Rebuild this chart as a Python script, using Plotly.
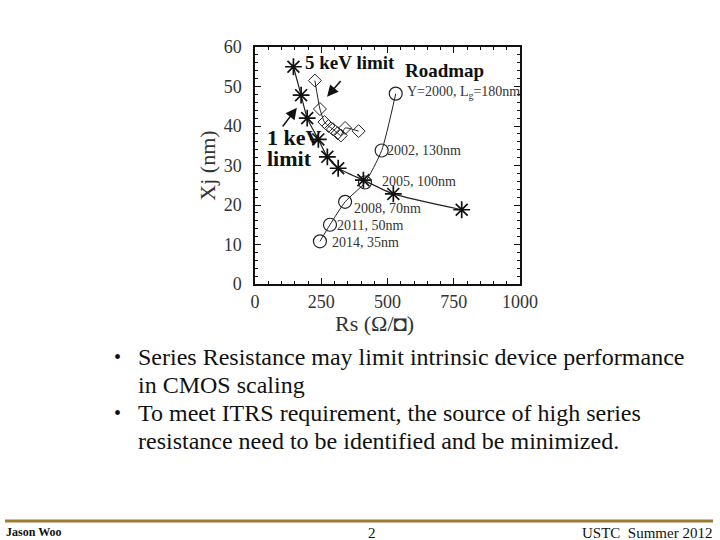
import plotly.graph_objects as go

# ---- data ----
kev1_rs = [145, 174, 197, 239, 273, 314, 409, 522, 780]
kev1_xj = [55.0, 47.8, 42.0, 36.6, 32.2, 29.3, 26.3, 22.8, 18.8]

kev5_rs = [226, 245, 262, 277, 294, 312, 324, 340, 391]
kev5_xj = [51.5, 44.3, 41.0, 40.0, 39.2, 38.2, 37.6, 39.5, 38.7]

road_rs = [531, 478, 415, 340, 283, 245]
road_xj = [48.2, 33.8, 25.7, 20.8, 15.0, 10.8]
road_labels = ["Y=2000, L<sub>g</sub>=180nm", "2002, 130nm", "2005, 100nm",
               "2008, 70nm", "2011, 50nm", "2014, 35nm"]
road_label_x = [566, 491, 472, 366, 302, 283]
road_label_y = [48.6, 33.7, 26.0, 19.2, 14.7, 10.4]

x_ticks = [0, 250, 500, 750, 1000]
y_ticks = [0, 10, 20, 30, 40, 50, 60]

bullet_lines = [
    ("•", "Series Resistance may limit intrinsic device performance"),
    ("", "in CMOS scaling"),
    ("•", "To meet ITRS requirement, the source of high series"),
    ("", "resistance need to be identified and be minimized."),
]

SERIF = "Liberation Serif"

fig = go.Figure()

fig.add_trace(go.Scatter(
    x=kev1_rs, y=kev1_xj, mode="lines+markers",
    line=dict(color="#222", width=1.2, shape="spline", smoothing=0.6),
    marker=dict(symbol="asterisk-open", size=14, color="#111", line=dict(width=1.7, color="#111")),
    showlegend=False, hoverinfo="skip"))

fig.add_trace(go.Scatter(
    x=kev5_rs, y=kev5_xj, mode="lines+markers",
    line=dict(color="#222", width=1.0, shape="spline", smoothing=0.5),
    marker=dict(symbol="diamond-open", size=10, color="#222", line=dict(width=1.0, color="#222")),
    showlegend=False, hoverinfo="skip"))

fig.add_trace(go.Scatter(
    x=road_rs, y=road_xj, mode="lines+markers",
    line=dict(color="#222", width=1.0, shape="spline", smoothing=0.6),
    marker=dict(symbol="circle-open", size=13, color="#222", line=dict(width=1.2, color="#222")),
    showlegend=False, hoverinfo="skip"))

# roadmap labels
for t, lx, ly in zip(road_labels, road_label_x, road_label_y):
    fig.add_annotation(x=lx, y=ly, xref="x", yref="y", text=t, showarrow=False,
                       xanchor="left", yanchor="middle",
                       font=dict(family=SERIF, size=14, color="#333"))

# bold labels
fig.add_annotation(x=181, y=56.2, xref="x", yref="y", text="<b>5 keV limit</b>", showarrow=False,
                   xanchor="left", yanchor="middle", font=dict(family=SERIF, size=19, color="#111"))
fig.add_annotation(x=560, y=54.0, xref="x", yref="y", text="<b>Roadmap</b>", showarrow=False,
                   xanchor="left", yanchor="middle", font=dict(family=SERIF, size=19, color="#111"))
fig.add_annotation(x=38, y=37.0, xref="x", yref="y", text="<b>1 keV</b>", showarrow=False,
                   xanchor="left", yanchor="middle", font=dict(family=SERIF, size=22, color="#111"))
fig.add_annotation(x=38, y=31.8, xref="x", yref="y", text="<b>limit</b>", showarrow=False,
                   xanchor="left", yanchor="middle", font=dict(family=SERIF, size=22, color="#111"))

# arrows
fig.add_annotation(x=272, y=47.4, ax=328, ay=51.8, xref="x", yref="y", axref="x", ayref="y",
                   text="", showarrow=True, arrowhead=2, arrowsize=1.5, arrowwidth=1.5, arrowcolor="#111")
fig.add_annotation(x=158, y=44.6, ax=100, ay=39.5, xref="x", yref="y", axref="x", ayref="y",
                   text="", showarrow=True, arrowhead=2, arrowsize=1.5, arrowwidth=1.5, arrowcolor="#111")

axis_common = dict(showgrid=False, zeroline=False, showline=True, linecolor="#111", linewidth=1.5,
                   mirror="ticks", ticks="inside", ticklen=6, tickwidth=1.2, tickcolor="#111",
                   automargin=False,
                   tickfont=dict(family=SERIF, size=18, color="#333"))

fig.update_xaxes(range=[0, 1000], domain=[255/720, 520/720], tickvals=x_ticks,
                 minor=dict(dtick=50, ticks="inside", ticklen=3, tickcolor="#111"),
                 ticklabelstandoff=1, **axis_common)
fig.update_yaxes(range=[0, 60], domain=[1 - 284/540, 1 - 47/540], tickvals=y_ticks,
                 minor=dict(dtick=2, ticks="inside", ticklen=3, tickcolor="#111"),
                 title=dict(text="Xj (nm)", font=dict(family=SERIF, size=22, color="#333"), standoff=2),
                 ticklabelstandoff=8, **axis_common)

# x-axis title (placed slightly left of centre, as in the reference)
fig.add_annotation(x=374/720, y=1 - 323/540, xref="paper", yref="paper", text="Rs (Ω/◘)",
                   showarrow=False, xanchor="center", yanchor="middle",
                   font=dict(family=SERIF, size=22, color="#333"))

# slide text
line_y = [357, 385, 413, 441]
for (b, t), py in zip(bullet_lines, line_y):
    if b:
        fig.add_annotation(x=112/720, y=1 - py/540, xref="paper", yref="paper", text=b,
                           showarrow=False, xanchor="left", yanchor="middle",
                           font=dict(family=SERIF, size=20, color="#111"))
    fig.add_annotation(x=136/720, y=1 - py/540, xref="paper", yref="paper", text=t,
                       showarrow=False, xanchor="left", yanchor="middle", align="left",
                       font=dict(family=SERIF, size=24, color="#111"))

# footer
fig.add_shape(type="line", xref="paper", yref="paper", x0=5/720, x1=713/720,
              y0=1 - 521/540, y1=1 - 521/540, line=dict(color="#9C7A2E", width=3))
fig.add_annotation(x=4/720, y=1 - 532/540, xref="paper", yref="paper", text="<b>Jason Woo</b>",
                   showarrow=False, xanchor="left", yanchor="middle",
                   font=dict(family=SERIF, size=12, color="#111"))
fig.add_annotation(x=372/720, y=1 - 533/540, xref="paper", yref="paper", text="2",
                   showarrow=False, xanchor="center", yanchor="middle",
                   font=dict(family=SERIF, size=15, color="#111"))
fig.add_annotation(x=714/720, y=1 - 533/540, xref="paper", yref="paper", text="USTC  Summer 2012",
                   showarrow=False, xanchor="right", yanchor="middle",
                   font=dict(family=SERIF, size=15, color="#111"))

fig.update_layout(width=720, height=540, margin=dict(l=0, r=0, t=0, b=0, autoexpand=False),
                  paper_bgcolor="white", plot_bgcolor="white", showlegend=False)

fig.write_html("out.html", config={"displayModeBar": False},
               post_script="document.body.style.margin='0';document.body.style.overflow='hidden';")
